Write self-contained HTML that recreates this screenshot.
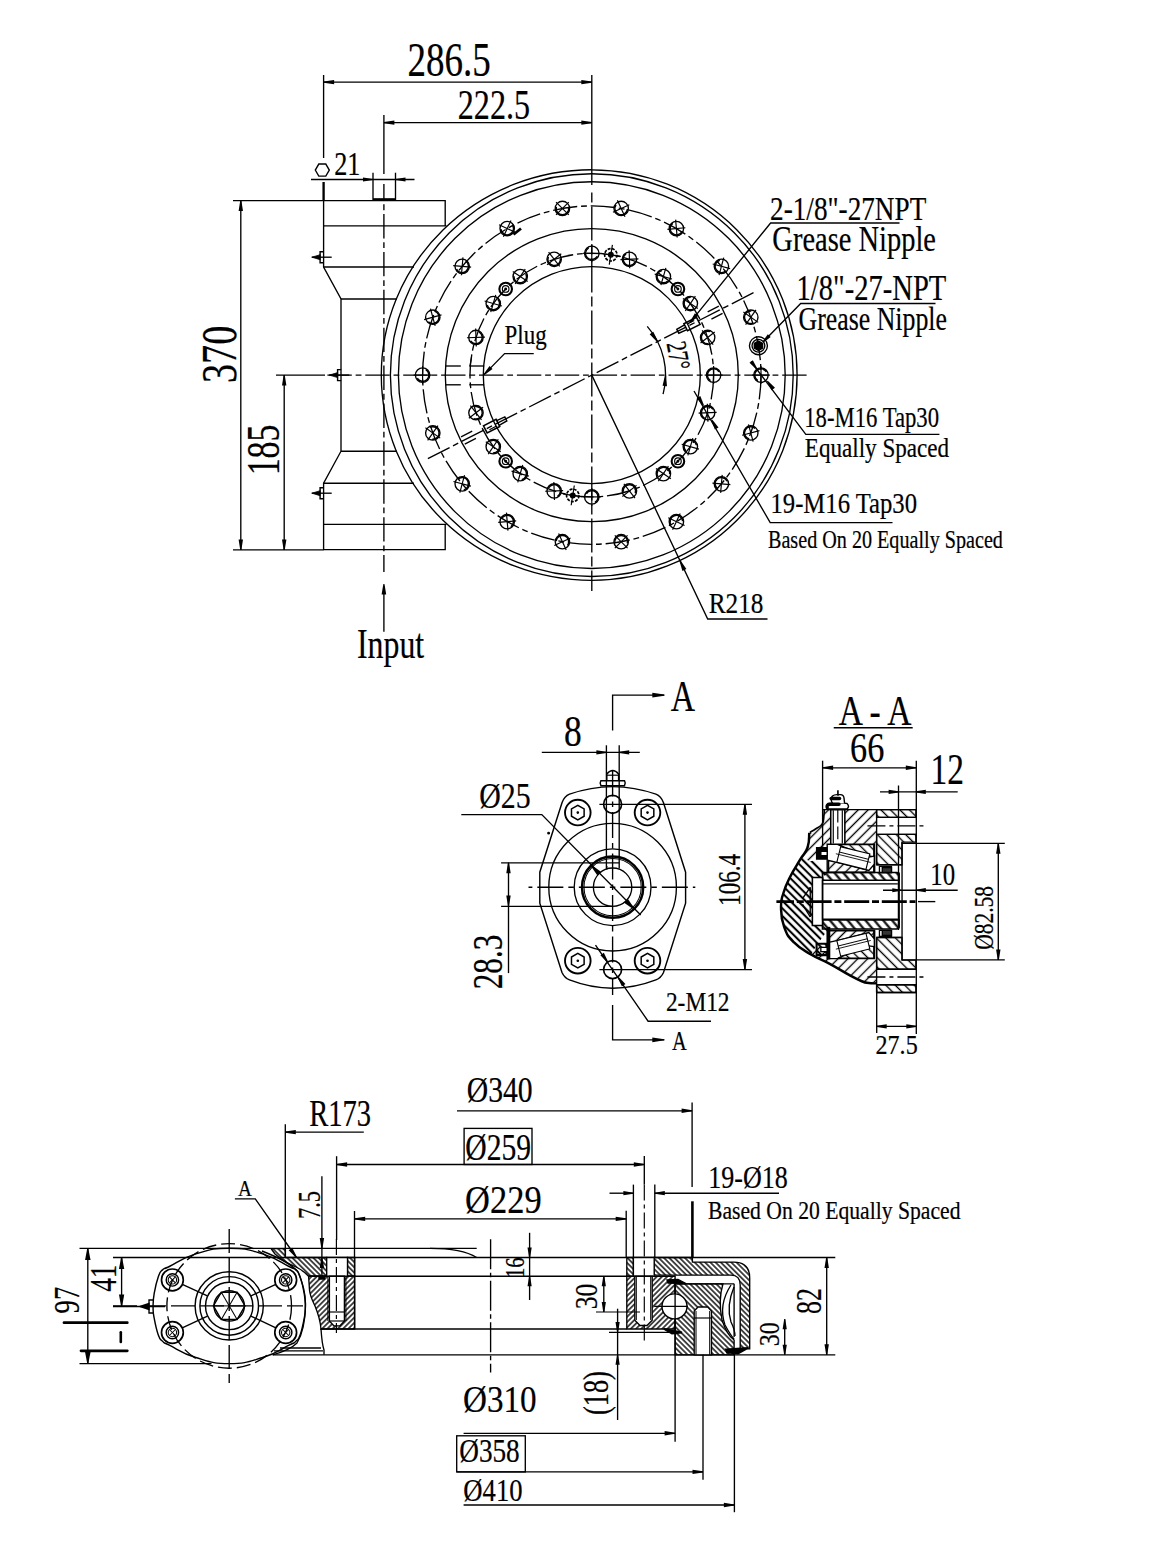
<!DOCTYPE html>
<html><head><meta charset="utf-8"><title>Drawing</title>
<style>
html,body{margin:0;padding:0;background:#fff;}
svg{display:block;}
text{font-family:"Liberation Serif",serif;fill:#000;}
</style></head><body>
<svg width="1152" height="1558" viewBox="0 0 1152 1558" fill="none" stroke="#000" stroke-width="1.35">
<defs>
<pattern id="hA" width="3.7" height="3.7" patternUnits="userSpaceOnUse" patternTransform="rotate(45)"><line x1="-1" y1="1.85" x2="5" y2="1.85" stroke="#000" stroke-width="1.4"/></pattern>
<pattern id="hB" width="3.7" height="3.7" patternUnits="userSpaceOnUse" patternTransform="rotate(-45)"><line x1="-1" y1="1.85" x2="5" y2="1.85" stroke="#000" stroke-width="1.4"/></pattern>
<pattern id="hC" width="5.4" height="5.4" patternUnits="userSpaceOnUse" patternTransform="rotate(45)"><line x1="-1" y1="2.7" x2="7" y2="2.7" stroke="#000" stroke-width="2.1"/></pattern>
<pattern id="hD" width="6.8" height="6.8" patternUnits="userSpaceOnUse" patternTransform="rotate(50)"><line x1="-1" y1="3.4" x2="8" y2="3.4" stroke="#000" stroke-width="2.1"/></pattern>
<pattern id="hA2" width="6.7" height="6.7" patternUnits="userSpaceOnUse" patternTransform="rotate(45)"><line x1="-1" y1="3.3" x2="8" y2="3.3" stroke="#000" stroke-width="1.35"/></pattern>
<pattern id="hB2" width="7" height="7" patternUnits="userSpaceOnUse" patternTransform="rotate(-45)"><line x1="-1" y1="3.5" x2="8" y2="3.5" stroke="#000" stroke-width="1.35"/></pattern>
</defs>
<rect x="0" y="0" width="1152" height="1558" fill="#fff" stroke="none"/>
<!-- TOP VIEW -->
<path d="M591.8 169.8 A205.3 205.3 0 0 1 591.8 580.4"/>
<path d="M591.8 580.4 A210.5 205.3 0 0 1 591.8 169.8"/>
<circle cx="591.8" cy="375.1" r="201.4"/>
<circle cx="591.8" cy="375.1" r="193.4"/>
<circle cx="591.8" cy="375.1" r="146.5"/>
<circle cx="591.8" cy="375.1" r="108.5"/>
<circle cx="591.8" cy="375.1" r="169.2" stroke-dasharray="24.4 3.85 5.8 3.85"/>
<circle cx="591.8" cy="375.1" r="121.8" stroke-dasharray="24.4 3.85 5.8 3.85"/>
<line x1="276" y1="375.1" x2="325" y2="375.1"/>
<line x1="325" y1="375.1" x2="808" y2="375.1" stroke-dasharray="24.4 3.85 5.8 3.85" stroke-dashoffset="35.5"/>
<line x1="591.8" y1="75" x2="591.8" y2="185"/>
<line x1="591.8" y1="189" x2="591.8" y2="591" stroke-dasharray="34 4 10 4" stroke-dashoffset="34.5"/>
<circle cx="761" cy="375.1" r="7.2"/>
<path d="M766.46 371.95 A6.3 6.3 0 1 0 757.85 380.56" stroke-width="1.5"/>
<line x1="752" y1="375.1" x2="770" y2="375.1" stroke-width="1.17"/>
<line x1="761" y1="384.1" x2="761" y2="366.1" stroke-width="1.17"/>
<circle cx="750.8" cy="317.23" r="7.2"/>
<path d="M751.35 310.95 A6.3 6.3 0 1 0 753.46 322.94" stroke-width="1.5"/>
<line x1="745.63" y1="324.6" x2="755.96" y2="309.86" stroke-width="1.17"/>
<line x1="758.17" y1="322.39" x2="743.42" y2="312.07" stroke-width="1.17"/>
<circle cx="721.41" cy="266.34" r="7.2"/>
<path d="M719.78 260.26 A6.3 6.3 0 1 0 725.87 270.8" stroke-width="1.5"/>
<line x1="719.09" y1="275.03" x2="723.74" y2="257.65" stroke-width="1.17"/>
<line x1="730.11" y1="268.67" x2="712.72" y2="264.01" stroke-width="1.17"/>
<circle cx="676.4" cy="228.57" r="7.2"/>
<path d="M672.79 223.41 A6.3 6.3 0 1 0 682.11 231.23" stroke-width="1.5"/>
<line x1="677.18" y1="237.53" x2="675.62" y2="219.6" stroke-width="1.17"/>
<line x1="685.37" y1="227.78" x2="667.43" y2="229.35" stroke-width="1.17"/>
<circle cx="621.18" cy="208.47" r="7.2"/>
<path d="M616.02 204.86 A6.3 6.3 0 1 0 627.46 209.02" stroke-width="1.5"/>
<line x1="624.98" y1="216.63" x2="617.38" y2="200.31" stroke-width="1.17"/>
<line x1="629.34" y1="204.67" x2="613.02" y2="212.27" stroke-width="1.17"/>
<circle cx="562.42" cy="208.47" r="7.2"/>
<path d="M556.33 206.84 A6.3 6.3 0 1 0 568.5 206.84" stroke-width="1.5"/>
<line x1="568.78" y1="214.83" x2="556.05" y2="202.11" stroke-width="1.17"/>
<line x1="568.78" y1="202.11" x2="556.05" y2="214.83" stroke-width="1.17"/>
<circle cx="507.2" cy="228.57" r="7.2"/>
<path d="M500.92 229.12 A6.3 6.3 0 1 0 512.36 224.95" stroke-width="1.5"/>
<line x1="515.36" y1="232.37" x2="499.04" y2="224.76" stroke-width="1.17"/>
<line x1="511" y1="220.41" x2="503.4" y2="236.73" stroke-width="1.17"/>
<circle cx="462.19" cy="266.34" r="7.2"/>
<path d="M456.48 269 A6.3 6.3 0 1 0 465.8 261.18" stroke-width="1.5"/>
<line x1="471.15" y1="267.12" x2="453.22" y2="265.56" stroke-width="1.17"/>
<line x1="462.97" y1="257.37" x2="461.4" y2="275.31" stroke-width="1.17"/>
<circle cx="432.8" cy="317.23" r="7.2"/>
<path d="M428.35 321.68 A6.3 6.3 0 1 0 434.43 311.14" stroke-width="1.5"/>
<line x1="441.5" y1="314.9" x2="424.11" y2="319.56" stroke-width="1.17"/>
<line x1="430.47" y1="308.54" x2="435.13" y2="325.92" stroke-width="1.17"/>
<circle cx="422.6" cy="375.1" r="7.2"/>
<path d="M417.14 378.25 A6.3 6.3 0 1 0 425.75 369.64" stroke-width="1.5"/>
<line x1="431.6" y1="375.1" x2="413.6" y2="375.1" stroke-width="1.17"/>
<line x1="422.6" y1="366.1" x2="422.6" y2="384.1" stroke-width="1.17"/>
<circle cx="432.8" cy="432.97" r="7.2"/>
<path d="M432.25 439.25 A6.3 6.3 0 1 0 430.14 427.26" stroke-width="1.5"/>
<line x1="437.97" y1="425.6" x2="427.64" y2="440.34" stroke-width="1.17"/>
<line x1="425.43" y1="427.81" x2="440.18" y2="438.13" stroke-width="1.17"/>
<circle cx="462.19" cy="483.86" r="7.2"/>
<path d="M463.82 489.94 A6.3 6.3 0 1 0 457.73 479.4" stroke-width="1.5"/>
<line x1="464.51" y1="475.17" x2="459.86" y2="492.55" stroke-width="1.17"/>
<line x1="453.49" y1="481.53" x2="470.88" y2="486.19" stroke-width="1.17"/>
<circle cx="507.2" cy="521.63" r="7.2"/>
<path d="M510.81 526.79 A6.3 6.3 0 1 0 501.49 518.97" stroke-width="1.5"/>
<line x1="506.42" y1="512.67" x2="507.98" y2="530.6" stroke-width="1.17"/>
<line x1="498.23" y1="522.42" x2="516.17" y2="520.85" stroke-width="1.17"/>
<circle cx="562.42" cy="541.73" r="7.2"/>
<path d="M567.58 545.34 A6.3 6.3 0 1 0 556.14 541.18" stroke-width="1.5"/>
<line x1="558.62" y1="533.57" x2="566.22" y2="549.89" stroke-width="1.17"/>
<line x1="554.26" y1="545.53" x2="570.58" y2="537.93" stroke-width="1.17"/>
<circle cx="621.18" cy="541.73" r="7.2"/>
<path d="M627.27 543.36 A6.3 6.3 0 1 0 615.1 543.36" stroke-width="1.5"/>
<line x1="614.82" y1="535.37" x2="627.55" y2="548.09" stroke-width="1.17"/>
<line x1="614.82" y1="548.09" x2="627.55" y2="535.37" stroke-width="1.17"/>
<circle cx="676.4" cy="521.63" r="7.2"/>
<path d="M682.68 521.08 A6.3 6.3 0 1 0 671.24 525.25" stroke-width="1.5"/>
<line x1="668.24" y1="517.83" x2="684.56" y2="525.44" stroke-width="1.17"/>
<line x1="672.6" y1="529.79" x2="680.2" y2="513.47" stroke-width="1.17"/>
<circle cx="721.41" cy="483.86" r="7.2"/>
<path d="M727.12 481.2 A6.3 6.3 0 1 0 717.8 489.02" stroke-width="1.5"/>
<line x1="712.45" y1="483.08" x2="730.38" y2="484.64" stroke-width="1.17"/>
<line x1="720.63" y1="492.83" x2="722.2" y2="474.89" stroke-width="1.17"/>
<circle cx="750.8" cy="432.97" r="7.2"/>
<path d="M755.25 428.52 A6.3 6.3 0 1 0 749.17 439.06" stroke-width="1.5"/>
<line x1="742.1" y1="435.3" x2="759.49" y2="430.64" stroke-width="1.17"/>
<line x1="753.13" y1="441.66" x2="748.47" y2="424.28" stroke-width="1.17"/>
<circle cx="713.6" cy="375.1" r="7.2"/>
<path d="M719.06 371.95 A6.3 6.3 0 1 0 710.45 380.56" stroke-width="1.5"/>
<line x1="704.6" y1="375.1" x2="722.6" y2="375.1" stroke-width="1.17"/>
<line x1="713.6" y1="384.1" x2="713.6" y2="366.1" stroke-width="1.17"/>
<circle cx="707.64" cy="337.46" r="7.2"/>
<path d="M710 331.62 A6.3 6.3 0 1 0 708.52 343.7" stroke-width="1.5"/>
<line x1="700.55" y1="343" x2="714.73" y2="331.92" stroke-width="1.17"/>
<line x1="713.18" y1="344.55" x2="702.1" y2="330.37" stroke-width="1.17"/>
<circle cx="690.34" cy="303.51" r="7.2"/>
<path d="M690.78 297.22 A6.3 6.3 0 1 0 693.1 309.17" stroke-width="1.5"/>
<line x1="685.31" y1="310.97" x2="695.37" y2="296.05" stroke-width="1.17"/>
<line x1="697.8" y1="308.54" x2="682.88" y2="298.48" stroke-width="1.17"/>
<circle cx="663.39" cy="276.56" r="7.2"/>
<path d="M661.87 270.45 A6.3 6.3 0 1 0 667.77 281.09" stroke-width="1.5"/>
<line x1="660.91" y1="285.21" x2="665.87" y2="267.91" stroke-width="1.17"/>
<line x1="672.04" y1="279.04" x2="654.74" y2="274.08" stroke-width="1.17"/>
<circle cx="629.44" cy="259.26" r="7.2"/>
<path d="M626.1 253.92 A6.3 6.3 0 1 0 635 262.22" stroke-width="1.5"/>
<line x1="629.75" y1="268.26" x2="629.12" y2="250.27" stroke-width="1.17"/>
<line x1="638.43" y1="258.95" x2="620.44" y2="259.58" stroke-width="1.17"/>
<circle cx="591.8" cy="253.3" r="7.2"/>
<path d="M588.65 247.84 A6.3 6.3 0 1 0 597.26 256.45" stroke-width="1.5"/>
<line x1="591.8" y1="262.3" x2="591.8" y2="244.3" stroke-width="1.17"/>
<line x1="600.8" y1="253.3" x2="582.8" y2="253.3" stroke-width="1.17"/>
<circle cx="554.16" cy="259.26" r="7.2"/>
<path d="M548.32 256.9 A6.3 6.3 0 1 0 560.4 258.38" stroke-width="1.5"/>
<line x1="559.7" y1="266.35" x2="548.62" y2="252.17" stroke-width="1.17"/>
<line x1="561.25" y1="253.72" x2="547.07" y2="264.8" stroke-width="1.17"/>
<circle cx="520.21" cy="276.56" r="7.2"/>
<path d="M513.92 276.12 A6.3 6.3 0 1 0 525.87 273.8" stroke-width="1.5"/>
<line x1="527.67" y1="281.59" x2="512.75" y2="271.53" stroke-width="1.17"/>
<line x1="525.24" y1="269.1" x2="515.18" y2="284.02" stroke-width="1.17"/>
<circle cx="493.26" cy="303.51" r="7.2"/>
<path d="M487.15 305.03 A6.3 6.3 0 1 0 497.79 299.13" stroke-width="1.5"/>
<line x1="501.91" y1="305.99" x2="484.61" y2="301.03" stroke-width="1.17"/>
<line x1="495.74" y1="294.86" x2="490.78" y2="312.16" stroke-width="1.17"/>
<circle cx="475.96" cy="337.46" r="7.2"/>
<path d="M470.62 340.8 A6.3 6.3 0 1 0 478.92 331.9" stroke-width="1.5"/>
<line x1="484.96" y1="337.15" x2="466.97" y2="337.78" stroke-width="1.17"/>
<line x1="475.65" y1="328.47" x2="476.28" y2="346.46" stroke-width="1.17"/>
<circle cx="475.96" cy="412.74" r="7.2"/>
<path d="M473.6 418.58 A6.3 6.3 0 1 0 475.08 406.5" stroke-width="1.5"/>
<line x1="483.05" y1="407.2" x2="468.87" y2="418.28" stroke-width="1.17"/>
<line x1="470.42" y1="405.65" x2="481.5" y2="419.83" stroke-width="1.17"/>
<circle cx="493.26" cy="446.69" r="7.2"/>
<path d="M492.82 452.98 A6.3 6.3 0 1 0 490.5 441.03" stroke-width="1.5"/>
<line x1="498.29" y1="439.23" x2="488.23" y2="454.15" stroke-width="1.17"/>
<line x1="485.8" y1="441.66" x2="500.72" y2="451.72" stroke-width="1.17"/>
<circle cx="520.21" cy="473.64" r="7.2"/>
<path d="M521.73 479.75 A6.3 6.3 0 1 0 515.83 469.11" stroke-width="1.5"/>
<line x1="522.69" y1="464.99" x2="517.73" y2="482.29" stroke-width="1.17"/>
<line x1="511.56" y1="471.16" x2="528.86" y2="476.12" stroke-width="1.17"/>
<circle cx="554.16" cy="490.94" r="7.2"/>
<path d="M557.5 496.28 A6.3 6.3 0 1 0 548.6 487.98" stroke-width="1.5"/>
<line x1="553.85" y1="481.94" x2="554.48" y2="499.93" stroke-width="1.17"/>
<line x1="545.17" y1="491.25" x2="563.16" y2="490.62" stroke-width="1.17"/>
<circle cx="591.8" cy="496.9" r="7.2"/>
<path d="M594.95 502.36 A6.3 6.3 0 1 0 586.34 493.75" stroke-width="1.5"/>
<line x1="591.8" y1="487.9" x2="591.8" y2="505.9" stroke-width="1.17"/>
<line x1="582.8" y1="496.9" x2="600.8" y2="496.9" stroke-width="1.17"/>
<circle cx="629.44" cy="490.94" r="7.2"/>
<path d="M635.28 493.3 A6.3 6.3 0 1 0 623.2 491.82" stroke-width="1.5"/>
<line x1="623.9" y1="483.85" x2="634.98" y2="498.03" stroke-width="1.17"/>
<line x1="622.35" y1="496.48" x2="636.53" y2="485.4" stroke-width="1.17"/>
<circle cx="663.39" cy="473.64" r="7.2"/>
<path d="M669.68 474.08 A6.3 6.3 0 1 0 657.73 476.4" stroke-width="1.5"/>
<line x1="655.93" y1="468.61" x2="670.85" y2="478.67" stroke-width="1.17"/>
<line x1="658.36" y1="481.1" x2="668.42" y2="466.18" stroke-width="1.17"/>
<circle cx="690.34" cy="446.69" r="7.2"/>
<path d="M696.45 445.17 A6.3 6.3 0 1 0 685.81 451.07" stroke-width="1.5"/>
<line x1="681.69" y1="444.21" x2="698.99" y2="449.17" stroke-width="1.17"/>
<line x1="687.86" y1="455.34" x2="692.82" y2="438.04" stroke-width="1.17"/>
<circle cx="707.64" cy="412.74" r="7.2"/>
<path d="M712.98 409.4 A6.3 6.3 0 1 0 704.68 418.3" stroke-width="1.5"/>
<line x1="698.64" y1="413.05" x2="716.63" y2="412.42" stroke-width="1.17"/>
<line x1="707.95" y1="421.73" x2="707.32" y2="403.74" stroke-width="1.17"/>
<circle cx="677.93" cy="288.97" r="6.3" stroke-width="2.08"/>
<circle cx="677.93" cy="288.97" r="3.3" stroke-width="1.17"/>
<circle cx="677.93" cy="288.97" r="0.9" stroke-width="1.04" fill="#000"/>
<circle cx="505.67" cy="288.97" r="6.3" stroke-width="2.08"/>
<circle cx="505.67" cy="288.97" r="3.3" stroke-width="1.17"/>
<circle cx="505.67" cy="288.97" r="0.9" stroke-width="1.04" fill="#000"/>
<circle cx="505.67" cy="461.23" r="6.3" stroke-width="2.08"/>
<circle cx="505.67" cy="461.23" r="3.3" stroke-width="1.17"/>
<circle cx="505.67" cy="461.23" r="0.9" stroke-width="1.04" fill="#000"/>
<circle cx="677.93" cy="461.23" r="6.3" stroke-width="2.08"/>
<circle cx="677.93" cy="461.23" r="3.3" stroke-width="1.17"/>
<circle cx="677.93" cy="461.23" r="0.9" stroke-width="1.04" fill="#000"/>
<circle cx="610.85" cy="254.8" r="6.2" stroke-width="1.69" stroke-dasharray="3 1.2"/>
<circle cx="610.85" cy="254.8" r="2.3" fill="#000"/>
<line x1="609.29" y1="264.68" x2="612.42" y2="244.92" stroke-width="1.17"/>
<line x1="620.73" y1="256.36" x2="600.98" y2="253.24" stroke-width="1.17"/>
<circle cx="572.75" cy="495.4" r="6.2" stroke-width="1.69" stroke-dasharray="3 1.2"/>
<circle cx="572.75" cy="495.4" r="2.3" fill="#000"/>
<line x1="574.31" y1="485.52" x2="571.18" y2="505.28" stroke-width="1.17"/>
<line x1="562.87" y1="493.84" x2="582.62" y2="496.96" stroke-width="1.17"/>
<circle cx="758.43" cy="345.72" r="9"/>
<circle cx="758.43" cy="345.72" r="6.4"/>
<path d="M762.59 348.12 L758.43 350.52 L754.27 348.12 L754.27 343.32 L758.43 340.92 L762.59 343.32 Z" fill="#000"/>
<line x1="513.5" y1="234.5" x2="521" y2="228.5" stroke-width="2.86"/>
<line x1="427.85" y1="458.63" x2="755.75" y2="291.57" stroke-dasharray="24.4 3.85 5.8 3.85"/>
<path d="M683.9 323.69 L696.46 317.28 L700.09 324.41 L687.53 330.81 Z" stroke-width="1.56"/>
<path d="M684.53 324.93 L676.78 329.33 L678.78 333.25 L686.89 329.57" stroke-width="1.43"/>
<line x1="687.48" y1="323.88" x2="694.16" y2="320.48" stroke-width="1.17"/>
<line x1="707.69" y1="311.79" x2="718.83" y2="306.11"/>
<line x1="711.41" y1="319.09" x2="722.55" y2="313.42"/>
<path d="M499.7 426.51 L487.14 432.92 L483.51 425.79 L496.07 419.39 Z" stroke-width="1.56"/>
<path d="M499.07 425.27 L506.82 420.87 L504.82 416.95 L496.71 420.63" stroke-width="1.43"/>
<line x1="496.12" y1="426.32" x2="489.44" y2="429.72" stroke-width="1.17"/>
<line x1="475.91" y1="438.41" x2="464.77" y2="444.09"/>
<line x1="472.19" y1="431.11" x2="461.05" y2="436.78"/>
<path d="M663.09 394.2 A73.8 73.8 0 0 0 647.24 326.39"/>
<path d="M657.11 341.91 L649.67 334.32 L653.25 331.77 L658 341.28 Z" fill="#000" stroke="none"/>
<path d="M666.05 375.54 L666.96 386.13 L662.57 385.82 L664.95 375.46 Z" fill="#000" stroke="none"/>
<text x="0" y="0" font-size="28.6" textLength="28.5" lengthAdjust="spacingAndGlyphs" transform="translate(666.4 343.6) rotate(79)" stroke="#000" stroke-width="0.22">27°</text>
<path d="M483.61 374.21 L489.52 366 L492.5 368.93 L484.39 374.99 Z" fill="#000" stroke="none"/>
<path d="M484 374.6 L504.6 353.6 L533.75 353.6"/>
<text x="504.61" y="343.6" font-size="27.48" textLength="42.07" lengthAdjust="spacingAndGlyphs" stroke="#000" stroke-width="0.22" stroke-linejoin="round">Plug</text>
<line x1="445.6" y1="366" x2="460.8" y2="366"/>
<line x1="469.3" y1="366" x2="484.2" y2="366"/>
<line x1="445.6" y1="384.8" x2="460.8" y2="384.8"/>
<line x1="469.3" y1="384.8" x2="484.2" y2="384.8"/>
<line x1="470" y1="365.8" x2="471.5" y2="357" stroke-width="1.17"/>
<path d="M445.2 226 L445.2 200.6 L323.6 200.6 L323.6 267 L341 299 L341 451.2 L323.6 483.2 L323.6 549.6 L445.2 549.6 L445.2 524.4"/>
<line x1="323.6" y1="225.8" x2="446.5" y2="225.8"/>
<line x1="323.6" y1="524.4" x2="446.5" y2="524.4"/>
<line x1="323.6" y1="267" x2="414" y2="267"/>
<line x1="323.6" y1="483.2" x2="414" y2="483.2"/>
<line x1="341" y1="299" x2="397" y2="299"/>
<line x1="341" y1="451.2" x2="397" y2="451.2"/>
<line x1="373" y1="172.7" x2="373" y2="200.6"/>
<line x1="395.5" y1="172.7" x2="395.5" y2="200.6"/>
<line x1="373" y1="199.6" x2="395.5" y2="199.6" stroke-width="2.86"/>
<line x1="383.9" y1="115" x2="383.9" y2="174"/>
<line x1="383.9" y1="184" x2="383.9" y2="572" stroke-dasharray="24.4 3.85 5.8 3.85" stroke-dashoffset="7.9"/>
<path d="M323.7 251.7 L320.1 251.7 L320.1 262.7 L323.7 262.7" stroke-width="1.43"/>
<path d="M311.9 257.2 L320.1 254.7 L320.1 259.7 Z" stroke-width="0.78" fill="#000"/>
<line x1="311.7" y1="257.2" x2="331.7" y2="257.2"/>
<path d="M323.7 487.7 L320.1 487.7 L320.1 498.7 L323.7 498.7" stroke-width="1.43"/>
<path d="M311.9 493.2 L320.1 490.7 L320.1 495.7 Z" stroke-width="0.78" fill="#000"/>
<line x1="311.7" y1="493.2" x2="331.7" y2="493.2"/>
<path d="M341.2 369.6 L337.6 369.6 L337.6 380.6 L341.2 380.6" stroke-width="1.43"/>
<path d="M329.4 375.1 L337.6 372.6 L337.6 377.6 Z" stroke-width="0.78" fill="#000"/>
<line x1="329.2" y1="375.1" x2="349.2" y2="375.1"/>
<line x1="323.6" y1="75" x2="323.6" y2="158"/>
<line x1="323.6" y1="182" x2="323.6" y2="200.6" stroke-width="2.34"/>
<line x1="323.6" y1="82.1" x2="591.8" y2="82.1"/>
<path d="M323.6 81.55 L334.1 79.9 L334.1 84.3 L323.6 82.65 Z" fill="#000" stroke="none"/>
<path d="M591.8 82.65 L581.3 84.3 L581.3 79.9 L591.8 81.55 Z" fill="#000" stroke="none"/>
<text x="407.43" y="75.6" font-size="47.67" textLength="83.35" lengthAdjust="spacingAndGlyphs" stroke="#000" stroke-width="0.22" stroke-linejoin="round">286.5</text>
<line x1="383.9" y1="122.6" x2="591.8" y2="122.6"/>
<path d="M383.9 122.05 L394.4 120.4 L394.4 124.8 L383.9 123.15 Z" fill="#000" stroke="none"/>
<path d="M591.8 123.15 L581.3 124.8 L581.3 120.4 L591.8 122.05 Z" fill="#000" stroke="none"/>
<text x="457.75" y="119.1" font-size="41.82" textLength="72.33" lengthAdjust="spacingAndGlyphs" stroke="#000" stroke-width="0.22" stroke-linejoin="round">222.5</text>
<line x1="311" y1="179.5" x2="414.5" y2="179.5"/>
<path d="M373 180.05 L363 181.59 L363 177.41 L373 178.95 Z" fill="#000" stroke="none"/>
<path d="M395.5 178.95 L405.5 177.41 L405.5 181.59 L395.5 180.05 Z" fill="#000" stroke="none"/>
<path d="M329.3 170.1 L325.8 176.16 L318.8 176.16 L315.3 170.1 L318.8 164.04 L325.8 164.04 Z"/>
<text x="334.22" y="174.5" font-size="34.7" textLength="26.26" lengthAdjust="spacingAndGlyphs" stroke="#000" stroke-width="0.22" stroke-linejoin="round">21</text>
<line x1="233" y1="200.6" x2="323.6" y2="200.6"/>
<line x1="233" y1="549.9" x2="323.6" y2="549.9"/>
<line x1="240.8" y1="200.6" x2="240.8" y2="549.9"/>
<path d="M241.35 200.6 L243 211.1 L238.6 211.1 L240.25 200.6 Z" fill="#000" stroke="none"/>
<path d="M240.25 549.9 L238.6 539.4 L243 539.4 L241.35 549.9 Z" fill="#000" stroke="none"/>
<text x="0" y="0" font-size="51.28" textLength="57.23" lengthAdjust="spacingAndGlyphs" transform="translate(236.2 383.01) rotate(-90)" stroke="#000" stroke-width="0.22" stroke-linejoin="round">370</text>
<line x1="284.2" y1="375.1" x2="284.2" y2="549.9"/>
<path d="M284.75 375.1 L286.4 385.6 L282 385.6 L283.65 375.1 Z" fill="#000" stroke="none"/>
<path d="M283.65 549.9 L282 539.4 L286.4 539.4 L284.75 549.9 Z" fill="#000" stroke="none"/>
<text x="0" y="0" font-size="45.56" textLength="50.8" lengthAdjust="spacingAndGlyphs" transform="translate(279.2 475.35) rotate(-90)" stroke="#000" stroke-width="0.22" stroke-linejoin="round">185</text>
<line x1="383.9" y1="586" x2="383.9" y2="631.7"/>
<path d="M384.45 584 L386.21 594.5 L381.59 594.5 L383.35 584 Z" fill="#000" stroke="none"/>
<text x="356.99" y="657.7" font-size="41.37" textLength="67.2" lengthAdjust="spacingAndGlyphs" stroke="#000" stroke-width="0.22" stroke-linejoin="round">Input</text>
<text x="770.08" y="219.5" font-size="34.7" textLength="156.17" lengthAdjust="spacingAndGlyphs" stroke="#000" stroke-width="0.22" stroke-linejoin="round">2-1/8"-27NPT</text>
<path d="M899.5 223 L770.6 223 L690.2 322.3"/>
<path d="M689.77 321.95 L694.87 313.21 L698.12 315.84 L690.63 322.65 Z" fill="#000" stroke="none"/>
<text x="772.36" y="250.8" font-size="35.88" textLength="163.56" lengthAdjust="spacingAndGlyphs" stroke="#000" stroke-width="0.22" stroke-linejoin="round">Grease Nipple</text>
<text x="796.53" y="300.2" font-size="35.91" textLength="149.74" lengthAdjust="spacingAndGlyphs" stroke="#000" stroke-width="0.22" stroke-linejoin="round">1/8"-27-NPT</text>
<path d="M935.5 303.5 L800.7 303.5 L764 341"/>
<path d="M762.6 341.62 L767.83 334.15 L770.68 336.9 L763.4 342.38 Z" fill="#000" stroke="none"/>
<text x="798.57" y="329.8" font-size="33.13" textLength="148.37" lengthAdjust="spacingAndGlyphs" stroke="#000" stroke-width="0.22" stroke-linejoin="round">Grease Nipple</text>
<text x="804.26" y="426.75" font-size="28.56" textLength="134.83" lengthAdjust="spacingAndGlyphs" stroke="#000" stroke-width="0.22" stroke-linejoin="round">18-M16 Tap30</text>
<path d="M939.4 434.4 L805.8 434.4 L751 361.5"/>
<path d="M767.74 380.67 L774.99 387.73 L771.65 390.24 L766.86 381.33 Z" fill="#000" stroke="none"/>
<path d="M756.76 369.83 L749.51 362.77 L752.85 360.26 L757.64 369.17 Z" fill="#000" stroke="none"/>
<text x="804.81" y="457.4" font-size="27.48" textLength="144.28" lengthAdjust="spacingAndGlyphs" stroke="#000" stroke-width="0.22" stroke-linejoin="round">Equally Spaced</text>
<text x="770.48" y="512.6" font-size="29.39" textLength="146.58" lengthAdjust="spacingAndGlyphs" stroke="#000" stroke-width="0.22" stroke-linejoin="round">19-M16 Tap30</text>
<path d="M892.5 522.6 L770.2 522.6 L694 391"/>
<path d="M712.18 419.53 L718.51 427.42 L714.89 429.51 L711.22 420.07 Z" fill="#000" stroke="none"/>
<path d="M703.02 405.88 L696.69 397.98 L700.31 395.89 L703.98 405.33 Z" fill="#000" stroke="none"/>
<text x="768" y="547.9" font-size="24.73" textLength="234.89" lengthAdjust="spacingAndGlyphs" stroke="#000" stroke-width="0.22" stroke-linejoin="round">Based On 20 Equally Spaced</text>
<text x="708.64" y="613.3" font-size="29.85" textLength="54.82" lengthAdjust="spacingAndGlyphs" stroke="#000" stroke-width="0.22" stroke-linejoin="round">R218</text>
<path d="M767.5 619 L707.7 619 L591.8 375.1"/>
<path d="M680.4 560.26 L686.39 569.04 L682.42 570.93 L679.4 560.74 Z" fill="#000" stroke="none"/>
<!-- MID LEFT: flange view -->
<path d="M612.6 730.5 L612.6 695.1 L664.3 695.1"/>
<path d="M664.3 695.65 L652.3 697.52 L652.3 692.68 L664.3 694.55 Z" fill="#000" stroke="none"/>
<text x="670.86" y="710.7" font-size="44.55" textLength="24.28" lengthAdjust="spacingAndGlyphs" stroke="#000" stroke-width="0.22" stroke-linejoin="round">A</text>
<path d="M612.6 1005 L612.6 1039.8 L664.3 1039.8"/>
<path d="M664.3 1040.35 L652.3 1042.22 L652.3 1037.38 L664.3 1039.25 Z" fill="#000" stroke="none"/>
<text x="672" y="1049.6" font-size="26.82" textLength="14.75" lengthAdjust="spacingAndGlyphs" stroke="#000" stroke-width="0.22" stroke-linejoin="round">A</text>
<line x1="541.8" y1="752.4" x2="639.8" y2="752.4"/>
<path d="M606.4 752.95 L596.4 754.49 L596.4 750.31 L606.4 751.85 Z" fill="#000" stroke="none"/>
<path d="M619.2 751.85 L629.2 750.31 L629.2 754.49 L619.2 752.95 Z" fill="#000" stroke="none"/>
<text x="564.08" y="746.1" font-size="44.14" textLength="17.74" lengthAdjust="spacingAndGlyphs" stroke="#000" stroke-width="0.22" stroke-linejoin="round">8</text>
<line x1="606.4" y1="745.3" x2="606.4" y2="868.5"/>
<line x1="619.2" y1="745.3" x2="619.2" y2="868.5"/>
<path d="M600.9 780.7 H624.5 Q626 783.2 624.5 785.7 H600.9 Q599.4 783.2 600.9 780.7 Z" stroke-width="1.43"/>
<path d="M606.8 780.7 V774 Q612.7 767 618.6 774 V780.7" stroke-width="1.43"/>
<line x1="606.8" y1="775.2" x2="618.6" y2="775.2" stroke-width="1.17"/>
<path d="M569.5 794.2 Q612.7 779 655.9 794.2 Q661 796 663.5 802.8 L685.6 872.2 V903.2 L663.5 972.5 Q661 978 655.9 979.9 Q612.7 996.5 569.5 979.9 Q564.5 978 562 972.5 L539.8 903.2 V872.2 L562 802.8 Q564.5 796 569.5 794.2 Z" stroke-width="1.43"/>
<circle cx="612.6" cy="887.2" r="63.8"/>
<circle cx="612.6" cy="887.2" r="38.4"/>
<circle cx="612.6" cy="887.2" r="30.6" stroke-width="2.47"/>
<circle cx="612.6" cy="887.2" r="28.6" stroke-width="1.04"/>
<circle cx="612.6" cy="887.2" r="19.2"/>
<path d="M606.8 866 L606.8 869.5"/>
<line x1="528.5" y1="887.2" x2="695.3" y2="887.2" stroke-dasharray="26 5 5.5 5" stroke-dashoffset="32.65"/>
<line x1="612.6" y1="766" x2="612.6" y2="995" stroke-dasharray="26 5 5.5 5" stroke-dashoffset="37.05"/>
<circle cx="577.8" cy="812.6" r="12.8" stroke-width="1.89"/>
<path d="M584.12 816.25 L577.8 819.9 L571.48 816.25 L571.48 808.95 L577.8 805.3 L584.12 808.95 Z" stroke-width="1.49"/>
<circle cx="577.8" cy="812.6" r="0.8" stroke-width="1.04" fill="#000"/>
<circle cx="577.8" cy="960.7" r="12.8" stroke-width="1.89"/>
<path d="M584.12 964.35 L577.8 968 L571.48 964.35 L571.48 957.05 L577.8 953.4 L584.12 957.05 Z" stroke-width="1.49"/>
<circle cx="577.8" cy="960.7" r="0.8" stroke-width="1.04" fill="#000"/>
<circle cx="647.5" cy="812.6" r="12.8" stroke-width="1.89"/>
<path d="M653.82 816.25 L647.5 819.9 L641.18 816.25 L641.18 808.95 L647.5 805.3 L653.82 808.95 Z" stroke-width="1.49"/>
<circle cx="647.5" cy="812.6" r="0.8" stroke-width="1.04" fill="#000"/>
<circle cx="647.5" cy="960.7" r="12.8" stroke-width="1.89"/>
<path d="M653.82 964.35 L647.5 968 L641.18 964.35 L641.18 957.05 L647.5 953.4 L653.82 957.05 Z" stroke-width="1.49"/>
<circle cx="647.5" cy="960.7" r="0.8" stroke-width="1.04" fill="#000"/>
<circle cx="612.6" cy="804.3" r="9" stroke-width="1.69"/>
<circle cx="612.6" cy="969.6" r="9" stroke-width="1.69"/>
<line x1="599.4" y1="804.3" x2="752" y2="804.3"/>
<line x1="599.4" y1="969.6" x2="752" y2="969.6"/>
<line x1="744.9" y1="804.3" x2="744.9" y2="969.6"/>
<path d="M745.45 804.3 L747.1 814.8 L742.7 814.8 L744.35 804.3 Z" fill="#000" stroke="none"/>
<path d="M744.35 969.6 L742.7 959.1 L747.1 959.1 L745.45 969.6 Z" fill="#000" stroke="none"/>
<text x="0" y="0" font-size="32.48" textLength="51.92" lengthAdjust="spacingAndGlyphs" transform="translate(739.9 905.88) rotate(-90)" stroke="#000" stroke-width="0.22" stroke-linejoin="round">106.4</text>
<text x="479.31" y="807.7" font-size="35.15" textLength="51.35" lengthAdjust="spacingAndGlyphs" stroke="#000" stroke-width="0.22" stroke-linejoin="round">Ø25</text>
<path d="M461.3 814.6 L541.8 814.6 L640.7 915"/>
<path d="M591.45 864.94 L601.01 871.67 L597.25 875.37 L590.66 865.72 Z" fill="#000" stroke="none"/>
<path d="M633.75 909.46 L624.19 902.73 L627.95 899.03 L634.54 908.68 Z" fill="#000" stroke="none"/>
<line x1="501.1" y1="862.9" x2="619.2" y2="862.9"/>
<line x1="501.1" y1="906.4" x2="612.6" y2="906.4"/>
<line x1="508.5" y1="862.7" x2="508.5" y2="973.1"/>
<path d="M509.05 862.7 L510.7 873.2 L506.3 873.2 L507.95 862.7 Z" fill="#000" stroke="none"/>
<path d="M507.95 906.1 L506.3 895.6 L510.7 895.6 L509.05 906.1 Z" fill="#000" stroke="none"/>
<text x="0" y="0" font-size="41.2" textLength="54.76" lengthAdjust="spacingAndGlyphs" transform="translate(501.7 989.31) rotate(-90)" stroke="#000" stroke-width="0.22" stroke-linejoin="round">28.3</text>
<text x="665.95" y="1010.6" font-size="26.52" textLength="63.59" lengthAdjust="spacingAndGlyphs" stroke="#000" stroke-width="0.22" stroke-linejoin="round">2-M12</text>
<path d="M711 1021.2 L648.1 1021.2 L595.5 945.1"/>
<path d="M607.33 962.51 L600.38 955.16 L603.82 952.78 L608.24 961.88 Z" fill="#000" stroke="none"/>
<path d="M618.47 976.69 L625.42 984.04 L621.98 986.42 L617.56 977.32 Z" fill="#000" stroke="none"/>
<circle cx="548.6" cy="833.2" r="0.9" stroke-width="1.04" fill="#000"/>
<!-- MID RIGHT: section A-A -->
<text x="838.87" y="725.1" font-size="41.36" textLength="72.57" lengthAdjust="spacingAndGlyphs" stroke="#000" stroke-width="0.22" stroke-linejoin="round">A - A</text>
<line x1="833.75" y1="727.7" x2="912.7" y2="727.7"/>
<text x="850.06" y="762.1" font-size="42.73" textLength="34.27" lengthAdjust="spacingAndGlyphs" stroke="#000" stroke-width="0.22" stroke-linejoin="round">66</text>
<line x1="822.6" y1="767.8" x2="916.3" y2="767.8"/>
<path d="M822.6 767.25 L833.1 765.6 L833.1 770 L822.6 768.35 Z" fill="#000" stroke="none"/>
<path d="M916.3 768.35 L905.8 770 L905.8 765.6 L916.3 767.25 Z" fill="#000" stroke="none"/>
<line x1="822.6" y1="760.7" x2="822.6" y2="846.7"/>
<line x1="916.3" y1="760.7" x2="916.3" y2="1034"/>
<text x="930.59" y="784.3" font-size="44.7" textLength="33.45" lengthAdjust="spacingAndGlyphs" stroke="#000" stroke-width="0.22" stroke-linejoin="round">12</text>
<line x1="880" y1="791.9" x2="957.7" y2="791.9"/>
<path d="M898.6 792.45 L888.6 793.99 L888.6 789.81 L898.6 791.35 Z" fill="#000" stroke="none"/>
<path d="M915.8 791.35 L925.8 789.81 L925.8 793.99 L915.8 792.45 Z" fill="#000" stroke="none"/>
<line x1="898.5" y1="785.5" x2="898.5" y2="930"/>
<line x1="898.9" y1="872.5" x2="898.9" y2="928.5" stroke-width="1.95"/>
<text x="930.37" y="884.5" font-size="31.13" textLength="24.83" lengthAdjust="spacingAndGlyphs" stroke="#000" stroke-width="0.22" stroke-linejoin="round">10</text>
<line x1="883" y1="890.2" x2="957.7" y2="890.2"/>
<path d="M901.3 890.75 L892.3 892.18 L892.3 888.22 L901.3 889.65 Z" fill="#000" stroke="none"/>
<path d="M915.8 889.65 L925.8 888.11 L925.8 892.29 L915.8 890.75 Z" fill="#000" stroke="none"/>
<text x="0" y="0" font-size="28.27" textLength="63.87" lengthAdjust="spacingAndGlyphs" transform="translate(992.9 949.86) rotate(-90)" stroke="#000" stroke-width="0.22" stroke-linejoin="round">Ø82.58</text>
<line x1="998.3" y1="843.3" x2="998.3" y2="959.9"/>
<path d="M998.85 843.3 L1000.5 853.8 L996.1 853.8 L997.75 843.3 Z" fill="#000" stroke="none"/>
<path d="M997.75 959.9 L996.1 949.4 L1000.5 949.4 L998.85 959.9 Z" fill="#000" stroke="none"/>
<line x1="901.5" y1="843.3" x2="1004.8" y2="843.3"/>
<line x1="901.5" y1="959.9" x2="1004.8" y2="959.9"/>
<text x="875.51" y="1053.7" font-size="28.33" textLength="42.2" lengthAdjust="spacingAndGlyphs" stroke="#000" stroke-width="0.22" stroke-linejoin="round">27.5</text>
<line x1="876.7" y1="1026.4" x2="916.3" y2="1026.4"/>
<path d="M876.7 1025.85 L886.7 1024.31 L886.7 1028.49 L876.7 1026.95 Z" fill="#000" stroke="none"/>
<path d="M916.3 1026.95 L906.3 1028.49 L906.3 1024.31 L916.3 1025.85 Z" fill="#000" stroke="none"/>
<line x1="876.7" y1="989.9" x2="876.7" y2="1032.9"/>
<path d="M824.23 809.66 L876.62 809.66 L876.62 844.26 L827.2 844.26 L827.2 853.44 L809.54 861.2 L801.78 856.97 L807.57 847.5 L809.26 832.82 L815.9 828.72 L822.25 823.92 L823.95 814.88 Z" fill="url(#hB2)" stroke="none"/>
<path d="M826.49 958.65 L876.62 958.65 L876.62 983.36 L868.86 983.08 L861.79 981.24 L849.08 974.89 L829.31 963.59 L810.95 954.41 L816.6 945.23 L826.49 949.47 Z" fill="url(#hB2)" stroke="none"/>
<path d="M803.19 856.26 L809.54 861.2 L816.6 860.5 L827.9 873.21 L822.53 877.44 L812.37 877.44 L812.37 925.46 L822.53 925.46 L827.9 929.7 L816.6 945.23 L810.95 954.41 L794.01 942.41 L784.12 926.87 L781.02 907.1 L783.42 892.98 L789.77 877.44 Z" fill="url(#hC)" stroke="none"/>
<path d="M822.53 872.5 L897.1 872.5 L898.8 874.62 L898.8 880.27 L822.53 880.27 Z" stroke-width="1.69" fill="url(#hD)"/>
<path d="M822.53 919.81 L898.8 919.81 L898.8 926.87 L897.1 928.99 L822.53 928.99 Z" stroke-width="1.69" fill="url(#hD)"/>
<path d="M876.62 809.66 L915.88 809.66 L915.88 817.42 L876.62 817.42 Z" fill="url(#hA2)"/>
<path d="M876.62 834.37 L915.88 834.37 L915.88 842.14 L902.04 842.14 L902.04 864.73 L876.62 864.73 Z" fill="url(#hA2)"/>
<path d="M876.62 937.46 L902.04 937.46 L902.04 960.06 L915.88 960.06 L915.88 969.24 L876.62 969.24 Z" fill="url(#hA2)"/>
<path d="M876.62 984.77 L915.88 984.77 L915.88 992.54 L876.62 992.54 Z" fill="url(#hA2)"/>
<path d="M824.23 809.66 C824.16 810.96 824.44 811.32 823.95 814.88 C823.45 818.45 824.26 820.46 822.25 823.92 C820.24 827.38 818.97 826.64 815.9 828.72 C812.83 830.8 811.45 831.37 809.97 832.25" stroke-width="1.69"/>
<path d="M809.26 832.82 C808.84 836.49 809.9 840.73 807.57 847.5 C805.24 854.28 804.39 852.45 799.94 859.93 C795.49 867.42 793.9 869.18 789.77 877.44 C785.64 885.71 785.61 885.56 783.42 892.98 C781.23 900.39 780.84 898.63 781.02 907.1 C781.19 915.57 780.87 918.05 784.12 926.87 C787.37 935.7 787.3 935.52 794.01 942.41 C800.72 949.29 802.13 949.11 810.95 954.41 C819.78 959.71 819.78 958.47 829.31 963.59 C838.85 968.71 840.96 970.47 849.08 974.89 C857.21 979.3 856.85 979.2 861.79 981.24 C866.74 983.29 865.15 982.55 868.86 983.08 C872.56 983.61 874.68 983.29 876.62 983.36" stroke-width="2.47"/>
<path d="M809.97 832.25 L811.1 833.66"/>
<path d="M822.53 809.66 L915.88 809.66"/>
<path d="M876.62 809.66 L876.62 864.73"/>
<path d="M876.62 937.46 L876.62 992.54"/>
<path d="M902.04 842.14 L902.04 960.06"/>
<path d="M876.62 817.42 L915.88 817.42"/>
<path d="M876.62 834.37 L915.88 834.37"/>
<path d="M876.62 969.24 L915.88 969.24"/>
<path d="M876.62 984.77 L915.88 984.77"/>
<path d="M876.62 992.54 L915.88 992.54"/>
<line x1="867.44" y1="825.9" x2="926.05" y2="825.9" stroke-dasharray="18 4 4 4"/>
<line x1="867.44" y1="977.01" x2="927.46" y2="977.01" stroke-dasharray="18 4 4 4"/>
<path d="M827.2 844.26 L874.51 844.26 L874.51 872.5 L827.2 872.5 Z" stroke-width="1.43" fill="#fff"/>
<path d="M837.79 844.68 L873.8 844.68 L873.8 856.26 L868.86 856.97 Z" fill="url(#hA2)"/>
<path d="M828.61 860.5 L837.79 862.62 L868.86 870.38 L873.8 864.73 L873.8 872.08 L828.61 872.08 Z" fill="url(#hB2)"/>
<g transform="translate(853.32 858.1) rotate(14)"><rect x="-15" y="-8" width="30" height="16" fill="#fff" stroke-width="1.1"/><line x1="-15" y1="-2.5" x2="15" y2="-2.5" stroke-width="0.9"/><line x1="-18" y1="0" x2="18" y2="0" stroke-width="0.8"/></g>
<path d="M827.2 930.4 L874.51 930.4 L874.51 958.65 L827.2 958.65 Z" stroke-width="1.43" fill="#fff"/>
<path d="M837.79 958.22 L873.8 958.22 L873.8 946.64 L868.86 945.94 Z" fill="url(#hA2)"/>
<path d="M828.61 942.41 L837.79 940.29 L868.86 932.52 L873.8 938.17 L873.8 930.83 L828.61 930.83 Z" fill="url(#hB2)"/>
<g transform="translate(853.32 944.81) rotate(-14)"><rect x="-15" y="-8" width="30" height="16" fill="#fff" stroke-width="1.1"/><line x1="-15" y1="-2.5" x2="15" y2="-2.5" stroke-width="0.9"/><line x1="-18" y1="0" x2="18" y2="0" stroke-width="0.8"/></g>
<path d="M816.6 847.79 L826.49 847.79 L826.49 859.08 L816.6 859.08 Z" fill="#000"/>
<path d="M820.84 851.32 L827.2 851.32 L827.2 855.55 L820.84 855.55 Z" fill="#fff"/>
<path d="M816.6 943.82 L826.49 943.82 L826.49 955.12 L816.6 955.12 Z" stroke-width="2.08" fill="url(#hC)"/>
<path d="M820.84 947.35 L827.2 947.35 L827.2 951.59 L820.84 951.59 Z" fill="#fff"/>
<line x1="828.61" y1="926.87" x2="828.61" y2="959.35" stroke-width="3.38"/>
<path d="M879.45 866.43 L891.45 866.43 L891.45 872.5 L879.45 872.5 Z" fill="#fff"/>
<path d="M882.27 867.56 L891.45 867.56 L891.45 872.5 L882.27 872.5 Z" fill="#333"/>
<path d="M879.45 930.4 L891.45 930.4 L891.45 936.48 L879.45 936.48 Z" fill="#fff"/>
<path d="M882.27 930.4 L891.45 930.4 L891.45 935.35 L882.27 935.35 Z" fill="#333"/>
<line x1="876.62" y1="864.73" x2="902.04" y2="864.73"/>
<line x1="876.62" y1="937.46" x2="902.04" y2="937.46"/>
<line x1="874.51" y1="854.85" x2="874.51" y2="872.5"/>
<line x1="874.51" y1="930.4" x2="874.51" y2="948.06"/>
<path d="M812.37 877.44 L822.53 877.44 L822.53 925.46 L812.37 925.46 Z" stroke-width="1.56" fill="#fff"/>
<line x1="822.53" y1="883.8" x2="897.81" y2="883.8" stroke-width="1.17"/>
<line x1="822.53" y1="919.1" x2="897.81" y2="919.1" stroke-width="1.17"/>
<line x1="822.53" y1="880.27" x2="822.53" y2="919.81"/>
<path d="M810.25 887.33 L810.25 916.99"/>
<path d="M802.48 898.63 L810.25 887.33"/>
<path d="M802.48 904.28 L810.25 916.99"/>
<path d="M830.73 809.66 L844.85 809.66 L844.85 844.26 L830.73 844.26 Z" stroke-width="1.56" fill="#fff"/>
<line x1="833.27" y1="810.36" x2="833.27" y2="843.55" stroke-width="1.17"/>
<line x1="842.31" y1="810.36" x2="842.31" y2="843.55" stroke-width="1.17"/>
<line x1="837.79" y1="790.59" x2="837.79" y2="839.31" stroke-width="1.17" stroke-dasharray="14 4"/>
<path d="M828 809 Q825.2 806.2 828 803.4 H847 Q850 806.2 847 809 Z" stroke-width="1.43" fill="#fff"/>
<path d="M832.5 803.4 Q829.8 799 832.5 796 Q834 794.6 837 794.6 H840.5 Q843.5 794.6 844 798 L844.6 803.4" stroke-width="1.43" fill="#fff"/>
<path d="M831.2 798.6 H839.5" stroke-width="3.51" stroke-linecap="round"/>
<path d="M827.2 807.6 Q826.4 804.4 830 804.3 H839" stroke-width="3.38" stroke-linecap="round"/>
<line x1="838" y1="790.2" x2="838" y2="796" stroke-width="1.17"/>
<line x1="776.4" y1="901.6" x2="915.5" y2="901.6" stroke-width="2.6" stroke-dasharray="25 2.8 7 2.8" stroke-dashoffset="7.4"/>
<line x1="918" y1="901.6" x2="935.3" y2="901.6"/>
<!-- BOTTOM VIEW -->
<line x1="79.5" y1="1248.4" x2="476.7" y2="1248.4"/>
<path d="M430 1248.4 Q462 1248.4 476.7 1257.5"/>
<line x1="113" y1="1257.5" x2="835.3" y2="1257.5"/>
<line x1="309.6" y1="1276.2" x2="626.8" y2="1276.2"/>
<line x1="320.4" y1="1329" x2="626.8" y2="1329"/>
<line x1="272.7" y1="1354.8" x2="835.3" y2="1354.8"/>
<line x1="79.5" y1="1363.6" x2="211.5" y2="1363.6"/>
<line x1="490.6" y1="1239.3" x2="490.6" y2="1372.5" stroke-dasharray="30 3.5 4.5 3.5"/>
<line x1="113" y1="1305.9" x2="303" y2="1305.9" stroke-dasharray="24 5"/>
<line x1="229.2" y1="1229" x2="229.2" y2="1383" stroke-dasharray="24 5"/>
<circle cx="229.2" cy="1305.9" r="34.1" stroke-width="1.43"/>
<circle cx="229.2" cy="1305.9" r="29.3" stroke-width="1.43"/>
<circle cx="229.2" cy="1305.9" r="23.7" stroke-width="1.43"/>
<circle cx="229.2" cy="1305.9" r="15.2" stroke-width="1.43"/>
<path d="M245 1305.9 L237.1 1319.58 L221.3 1319.58 L213.4 1305.9 L221.3 1292.22 L237.1 1292.22 Z" stroke-width="1.43"/>
<line x1="213.4" y1="1305.9" x2="245" y2="1305.9" stroke-width="1.04"/>
<line x1="221.3" y1="1292.22" x2="237.1" y2="1319.58" stroke-width="1.04"/>
<line x1="237.1" y1="1292.22" x2="221.3" y2="1319.58" stroke-width="1.04"/>
<circle cx="229.2" cy="1305.9" r="62.3" stroke-dasharray="14 5"/>
<circle cx="172.4" cy="1279.9" r="10.9" stroke-width="1.69"/>
<circle cx="172.4" cy="1279.9" r="6.2" stroke-width="1.43"/>
<circle cx="172.4" cy="1279.9" r="4.2" stroke-width="1.04"/>
<line x1="169.4" y1="1276.9" x2="175.4" y2="1282.9" stroke-width="1.04"/>
<line x1="169.4" y1="1282.9" x2="175.4" y2="1276.9" stroke-width="1.04"/>
<line x1="182.31" y1="1284.44" x2="207.38" y2="1295.91"/>
<circle cx="172.4" cy="1332.5" r="10.9" stroke-width="1.69"/>
<circle cx="172.4" cy="1332.5" r="6.2" stroke-width="1.43"/>
<circle cx="172.4" cy="1332.5" r="4.2" stroke-width="1.04"/>
<line x1="169.4" y1="1329.5" x2="175.4" y2="1335.5" stroke-width="1.04"/>
<line x1="169.4" y1="1335.5" x2="175.4" y2="1329.5" stroke-width="1.04"/>
<line x1="182.27" y1="1327.88" x2="207.47" y2="1316.08"/>
<circle cx="285.7" cy="1279.9" r="10.9" stroke-width="1.69"/>
<circle cx="285.7" cy="1279.9" r="6.2" stroke-width="1.43"/>
<circle cx="285.7" cy="1279.9" r="4.2" stroke-width="1.04"/>
<line x1="282.7" y1="1276.9" x2="288.7" y2="1282.9" stroke-width="1.04"/>
<line x1="282.7" y1="1282.9" x2="288.7" y2="1276.9" stroke-width="1.04"/>
<line x1="275.8" y1="1284.46" x2="251" y2="1295.87"/>
<circle cx="285.7" cy="1332.5" r="10.9" stroke-width="1.69"/>
<circle cx="285.7" cy="1332.5" r="6.2" stroke-width="1.43"/>
<circle cx="285.7" cy="1332.5" r="4.2" stroke-width="1.04"/>
<line x1="282.7" y1="1329.5" x2="288.7" y2="1335.5" stroke-width="1.04"/>
<line x1="282.7" y1="1335.5" x2="288.7" y2="1329.5" stroke-width="1.04"/>
<line x1="275.84" y1="1327.86" x2="250.91" y2="1316.12"/>
<path d="M195.8 1253.9 C180.95 1258.41 178.12 1262.25 169.8 1266.25 C161.48 1270.25 165.38 1267.29 162.5 1269.9 C159.62 1272.51 160.38 1270.85 158.3 1276.7 C156.22 1282.55 155.5 1285.75 154.2 1293.3 C152.9 1300.85 153.1 1300.65 153.1 1306.9 C153.1 1313.15 152.9 1311.27 154.2 1318.3 C155.5 1325.33 156.22 1329.26 158.3 1335 C160.38 1340.74 159.62 1338.65 162.5 1341.25 C165.38 1343.85 161.48 1341.34 169.8 1345.4 C178.12 1349.46 180.95 1352.95 195.8 1357.5 C210.65 1362.05 212.5 1363.6 229.2 1363.6 C245.9 1363.6 247.75 1362.05 262.6 1357.5 C277.45 1352.95 280.27 1349.46 288.6 1345.4 C296.92 1341.34 293.02 1343.85 295.9 1341.25 C298.77 1338.65 298.02 1340.74 300.1 1335 C302.17 1329.26 302.9 1325.33 304.2 1318.3 C305.5 1311.27 305.3 1313.15 305.3 1306.9 C305.3 1300.65 305.5 1300.85 304.2 1293.3 C302.9 1285.75 302.17 1282.55 300.1 1276.7 C298.02 1270.85 298.77 1272.51 295.9 1269.9 C293.02 1267.29 296.92 1270.25 288.6 1266.25 C280.27 1262.25 277.45 1258.41 262.6 1253.9 C247.75 1249.39 245.9 1248.2 229.2 1248.2 C212.5 1248.2 210.65 1249.39 195.8 1253.9 Z" stroke-width="1.43"/>
<path d="M153.1 1300 L149 1300 L149 1313 L153.1 1313"/>
<path d="M140.1 1306.5 L149 1303.5 L149 1309.5 Z" fill="#000"/>
<line x1="113" y1="1306.5" x2="165" y2="1306.5"/>
<path d="M271.1 1248.6 H285.4 V1257.5 H326.7 V1276.2 H308.6 Q304 1271 296 1267 Q284 1262 275 1254 Z" fill="url(#hA)"/>
<path d="M308.6 1276.2 H354.7 V1329 H321 Q320 1318 315 1306 Q310 1296 309.5 1290 Z" fill="url(#hB)"/>
<path d="M347.5 1257.5 H354.7 V1276.2 H347.5 Z" fill="url(#hA)"/>
<path d="M326.7 1257.5 H347.5 V1276.2 H326.7 Z" fill="#fff"/>
<path d="M329.4 1276.2 H344.4 V1321 L340 1325.8 H333.8 L329.4 1321 Z" fill="#fff"/>
<line x1="327.9" y1="1276.2" x2="327.9" y2="1321" stroke-width="1.04"/>
<line x1="345.9" y1="1276.2" x2="345.9" y2="1321" stroke-width="1.04"/>
<line x1="329.4" y1="1312" x2="344.4" y2="1312" stroke-width="1.17"/>
<line x1="329.4" y1="1321" x2="344.4" y2="1321" stroke-width="1.17"/>
<line x1="336.4" y1="1239" x2="336.4" y2="1333" stroke-width="1.17" stroke-dasharray="16 4 4 4"/>
<line x1="354.5" y1="1211" x2="354.5" y2="1329"/>
<path d="M262 1251 Q290 1262 298 1272 Q306 1290 305.5 1306 Q305 1330 297 1343 Q290 1350 272.7 1354.8"/>
<path d="M321 1329 Q322 1344 324 1350 V1354.8"/>
<line x1="280" y1="1348" x2="321" y2="1348"/>
<line x1="274" y1="1350.8" x2="323" y2="1350.8"/>
<path d="M654.2 1257.5 H692.4 V1262.1 H734 Q749.7 1262.1 749.7 1278 V1348.9 H740.2 V1285 Q740.2 1275.1 731 1275.1 H654.2 Z" fill="url(#hA)"/>
<path d="M626.8 1257.5 H633.4 V1276.2 H626.8 Z" fill="url(#hA)"/>
<path d="M626.8 1276.2 H675.1 V1329 H626.8 Z" fill="url(#hB)"/>
<path d="M675.1 1283.8 H723 Q718 1300 722 1320 Q727 1335 734.1 1340 V1354.8 H675.1 Z" fill="url(#hA)"/>
<path d="M633.4 1257.5 H654.2 V1276.2 H633.4 Z" fill="#fff"/>
<path d="M634.8 1276.2 H652.2 V1320.3 L647 1325.5 H640 L634.8 1320.3 Z" fill="#fff"/>
<line x1="636.3" y1="1276.2" x2="636.3" y2="1320" stroke-width="1.04"/>
<line x1="650.7" y1="1276.2" x2="650.7" y2="1320" stroke-width="1.04"/>
<line x1="644.3" y1="1184.6" x2="644.3" y2="1342" stroke-width="1.17" stroke-dasharray="16 4 4 4"/>
<circle cx="674.5" cy="1306.4" r="12.5" stroke-width="1.43" fill="#fff"/>
<line x1="654.2" y1="1306.4" x2="688" y2="1306.4" stroke-width="1.17"/>
<line x1="675.1" y1="1283.8" x2="675.1" y2="1354.8"/>
<path d="M694.2 1354.8 V1311 L698 1307 H707.7 L711.5 1311 V1354.8 Z" fill="#fff"/>
<line x1="696" y1="1311" x2="696" y2="1354.8" stroke-width="1.04"/>
<line x1="709.7" y1="1311" x2="709.7" y2="1354.8" stroke-width="1.04"/>
<line x1="694.2" y1="1318" x2="711.5" y2="1318" stroke-width="1.17"/>
<path d="M731 1285 Q718 1305 725 1325 Q731 1336 734.1 1339"/>
<path d="M734 1287 Q726 1306 731 1322 Q735 1330 735 1336"/>
<line x1="734.1" y1="1283.8" x2="734.1" y2="1337"/>
<path d="M675.1 1283.8 H734.1"/>
<path d="M667 1280 L678 1279.5 L686 1283.5 L668 1283 Z" fill="#000"/>
<path d="M664 1329 L682 1332.5 L672 1333.5 Z" stroke-width="1.95" fill="#000"/>
<path d="M726 1349.5 L748 1348 L738 1353.5 L727 1352.5 Z" stroke-width="1.95" fill="#000"/>
<line x1="692.4" y1="1201.3" x2="692.4" y2="1257.5" stroke-width="2.6"/>
<text x="309.14" y="1126.1" font-size="38.03" textLength="61.96" lengthAdjust="spacingAndGlyphs" stroke="#000" stroke-width="0.22" stroke-linejoin="round">R173</text>
<line x1="285.3" y1="1132.1" x2="363.8" y2="1132.1"/>
<path d="M285.3 1131.55 L295.8 1129.9 L295.8 1134.3 L285.3 1132.65 Z" fill="#000" stroke="none"/>
<line x1="285.3" y1="1124.25" x2="285.3" y2="1257.5"/>
<text x="466.71" y="1101.9" font-size="35.49" textLength="65.94" lengthAdjust="spacingAndGlyphs" stroke="#000" stroke-width="0.22" stroke-linejoin="round">Ø340</text>
<line x1="457" y1="1110.8" x2="692.1" y2="1110.8"/>
<path d="M692.1 1111.35 L681.6 1113 L681.6 1108.6 L692.1 1110.25 Z" fill="#000" stroke="none"/>
<line x1="692.1" y1="1102.5" x2="692.1" y2="1187"/>
<rect x="464.1" y="1128.4" width="67.9" height="36.1"/>
<text x="465.31" y="1160" font-size="37.12" textLength="65.83" lengthAdjust="spacingAndGlyphs" stroke="#000" stroke-width="0.22" stroke-linejoin="round">Ø259</text>
<line x1="336.6" y1="1164.5" x2="644.3" y2="1164.5"/>
<path d="M336.6 1163.95 L347.1 1162.3 L347.1 1166.7 L336.6 1165.05 Z" fill="#000" stroke="none"/>
<path d="M644.3 1165.05 L633.8 1166.7 L633.8 1162.3 L644.3 1163.95 Z" fill="#000" stroke="none"/>
<line x1="336.6" y1="1156.2" x2="336.6" y2="1240"/>
<line x1="644.3" y1="1156" x2="644.3" y2="1184.6"/>
<text x="465.12" y="1213.2" font-size="40.3" textLength="76.53" lengthAdjust="spacingAndGlyphs" stroke="#000" stroke-width="0.22" stroke-linejoin="round">Ø229</text>
<line x1="354.7" y1="1218.9" x2="626.2" y2="1218.9"/>
<path d="M354.7 1218.35 L365.2 1216.7 L365.2 1221.1 L354.7 1219.45 Z" fill="#000" stroke="none"/>
<path d="M626.2 1219.45 L615.7 1221.1 L615.7 1216.7 L626.2 1218.35 Z" fill="#000" stroke="none"/>
<line x1="626.2" y1="1210.8" x2="626.2" y2="1257.5"/>
<text x="238.11" y="1196.3" font-size="23.64" textLength="13.93" lengthAdjust="spacingAndGlyphs" stroke="#000" stroke-width="0.22" stroke-linejoin="round">A</text>
<path d="M234.9 1198.9 L255.3 1198.9 L296.5 1257.5"/>
<path d="M296.05 1257.82 L288.68 1250.16 L292.28 1247.64 L296.95 1257.18 Z" fill="#000" stroke="none"/>
<text x="0" y="0" font-size="30.69" textLength="28.06" lengthAdjust="spacingAndGlyphs" transform="translate(319.8 1219.06) rotate(-90)" stroke="#000" stroke-width="0.22" stroke-linejoin="round">7.5</text>
<line x1="321.9" y1="1176.3" x2="321.9" y2="1277.5"/>
<path d="M321.35 1248.4 L319.7 1237.9 L324.1 1237.9 L322.45 1248.4 Z" fill="#000" stroke="none"/>
<path d="M322.45 1257.5 L324.1 1268 L319.7 1268 L321.35 1257.5 Z" fill="#000" stroke="none"/>
<path d="M319 1276.2 H324.6 V1279 H319 Z" fill="#000"/>
<text x="0" y="0" font-size="27.27" textLength="20.57" lengthAdjust="spacingAndGlyphs" transform="translate(524.4 1277.95) rotate(-90)" stroke="#000" stroke-width="0.22" stroke-linejoin="round">16</text>
<line x1="529.6" y1="1232.8" x2="529.6" y2="1300"/>
<path d="M529.05 1257.5 L527.51 1247.5 L531.69 1247.5 L530.15 1257.5 Z" fill="#000" stroke="none"/>
<path d="M530.15 1276.2 L531.69 1286.2 L527.51 1286.2 L529.05 1276.2 Z" fill="#000" stroke="none"/>
<text x="0" y="0" font-size="36.97" textLength="27.17" lengthAdjust="spacingAndGlyphs" transform="translate(116.1 1291.79) rotate(-90)" stroke="#000" stroke-width="0.22" stroke-linejoin="round">41</text>
<line x1="121.6" y1="1257.5" x2="121.6" y2="1305.9"/>
<path d="M122.15 1257.5 L124.24 1269 L118.96 1269 L121.05 1257.5 Z" fill="#000" stroke="none"/>
<path d="M121.05 1305.9 L118.96 1294.4 L124.24 1294.4 L122.15 1305.9 Z" fill="#000" stroke="none"/>
<text x="0" y="0" font-size="35.61" textLength="26.6" lengthAdjust="spacingAndGlyphs" transform="translate(79.2 1313.4) rotate(-90)" stroke="#000" stroke-width="0.22" stroke-linejoin="round">97</text>
<line x1="87.8" y1="1248.4" x2="87.8" y2="1363.6"/>
<path d="M88.35 1248.4 L90.55 1259.9 L85.05 1259.9 L87.25 1248.4 Z" fill="#000" stroke="none"/>
<path d="M87.25 1363.6 L85.05 1352.1 L90.55 1352.1 L88.35 1363.6 Z" fill="#000" stroke="none"/>
<line x1="64" y1="1322.7" x2="127.3" y2="1322.7" stroke-width="2.73" stroke-linecap="round"/>
<line x1="120.8" y1="1332.2" x2="120.8" y2="1342" stroke-width="2.6" stroke-linecap="round"/>
<line x1="81" y1="1350.8" x2="127.3" y2="1350.8" stroke-width="2.73" stroke-linecap="round"/>
<text x="708.26" y="1187.5" font-size="31.97" textLength="79.59" lengthAdjust="spacingAndGlyphs" stroke="#000" stroke-width="0.22" stroke-linejoin="round">19-Ø18</text>
<line x1="609.5" y1="1193.2" x2="633.4" y2="1193.2"/>
<path d="M633.4 1193.75 L623.4 1195.29 L623.4 1191.11 L633.4 1192.65 Z" fill="#000" stroke="none"/>
<line x1="654.8" y1="1193.2" x2="779" y2="1193.2"/>
<path d="M654.8 1192.65 L664.8 1191.11 L664.8 1195.29 L654.8 1193.75 Z" fill="#000" stroke="none"/>
<line x1="633.4" y1="1184.6" x2="633.4" y2="1257.5"/>
<line x1="654.8" y1="1184.6" x2="654.8" y2="1257.5"/>
<text x="708.05" y="1219.3" font-size="25.04" textLength="252.44" lengthAdjust="spacingAndGlyphs" stroke="#000" stroke-width="0.22" stroke-linejoin="round">Based On 20 Equally Spaced</text>
<text x="0" y="0" font-size="32.48" textLength="25.6" lengthAdjust="spacingAndGlyphs" transform="translate(597.4 1309.28) rotate(-90)" stroke="#000" stroke-width="0.22" stroke-linejoin="round">30</text>
<line x1="603.8" y1="1276.2" x2="603.8" y2="1312"/>
<path d="M604.35 1276.2 L605.89 1286.2 L601.71 1286.2 L603.25 1276.2 Z" fill="#000" stroke="none"/>
<path d="M603.25 1312 L601.71 1302 L605.89 1302 L604.35 1312 Z" fill="#000" stroke="none"/>
<line x1="596" y1="1312" x2="640" y2="1312" stroke-width="1.17"/>
<text x="0" y="0" font-size="35.49" textLength="43.97" lengthAdjust="spacingAndGlyphs" transform="translate(608.1 1415.09) rotate(-90)" stroke="#000" stroke-width="0.22" stroke-linejoin="round">(18)</text>
<line x1="617.6" y1="1308.7" x2="617.6" y2="1420"/>
<path d="M617.05 1332 L615.51 1322 L619.69 1322 L618.15 1332 Z" fill="#000" stroke="none"/>
<path d="M618.15 1354.8 L619.69 1364.8 L615.51 1364.8 L617.05 1354.8 Z" fill="#000" stroke="none"/>
<line x1="609" y1="1332.4" x2="680" y2="1332.4"/>
<text x="0" y="0" font-size="35.64" textLength="25.86" lengthAdjust="spacingAndGlyphs" transform="translate(820.7 1314.03) rotate(-90)" stroke="#000" stroke-width="0.22" stroke-linejoin="round">82</text>
<line x1="826.7" y1="1257.5" x2="826.7" y2="1354.8"/>
<path d="M827.25 1257.5 L828.9 1268 L824.5 1268 L826.15 1257.5 Z" fill="#000" stroke="none"/>
<path d="M826.15 1354.8 L824.5 1344.3 L828.9 1344.3 L827.25 1354.8 Z" fill="#000" stroke="none"/>
<text x="0" y="0" font-size="30.08" textLength="23.96" lengthAdjust="spacingAndGlyphs" transform="translate(778.7 1346.2) rotate(-90)" stroke="#000" stroke-width="0.22" stroke-linejoin="round">30</text>
<line x1="784.7" y1="1319.2" x2="784.7" y2="1354.8"/>
<path d="M785.25 1319.2 L786.79 1329.2 L782.61 1329.2 L784.15 1319.2 Z" fill="#000" stroke="none"/>
<path d="M784.15 1354.8 L782.61 1344.8 L786.79 1344.8 L785.25 1354.8 Z" fill="#000" stroke="none"/>
<text x="463.07" y="1412.2" font-size="38.35" textLength="73.62" lengthAdjust="spacingAndGlyphs" stroke="#000" stroke-width="0.22" stroke-linejoin="round">Ø310</text>
<line x1="463.6" y1="1433.3" x2="675.1" y2="1433.3"/>
<path d="M675.1 1433.85 L664.6 1435.5 L664.6 1431.1 L675.1 1432.75 Z" fill="#000" stroke="none"/>
<line x1="675.1" y1="1354.8" x2="675.1" y2="1441.7"/>
<rect x="456.7" y="1435.8" width="68.6" height="36.1"/>
<text x="459.21" y="1461.7" font-size="32.63" textLength="60.54" lengthAdjust="spacingAndGlyphs" stroke="#000" stroke-width="0.22" stroke-linejoin="round">Ø358</text>
<line x1="456.7" y1="1471.9" x2="703" y2="1471.9"/>
<path d="M703 1472.45 L692.5 1474.1 L692.5 1469.7 L703 1471.35 Z" fill="#000" stroke="none"/>
<line x1="703" y1="1354.8" x2="703" y2="1479.7"/>
<text x="463.33" y="1500.6" font-size="32.18" textLength="59.19" lengthAdjust="spacingAndGlyphs" stroke="#000" stroke-width="0.22" stroke-linejoin="round">Ø410</text>
<line x1="463.6" y1="1505" x2="734.4" y2="1505"/>
<path d="M734.4 1505.55 L723.9 1507.2 L723.9 1502.8 L734.4 1504.45 Z" fill="#000" stroke="none"/>
<line x1="734.4" y1="1349.3" x2="734.4" y2="1512.2"/>
</svg>
</body></html>
